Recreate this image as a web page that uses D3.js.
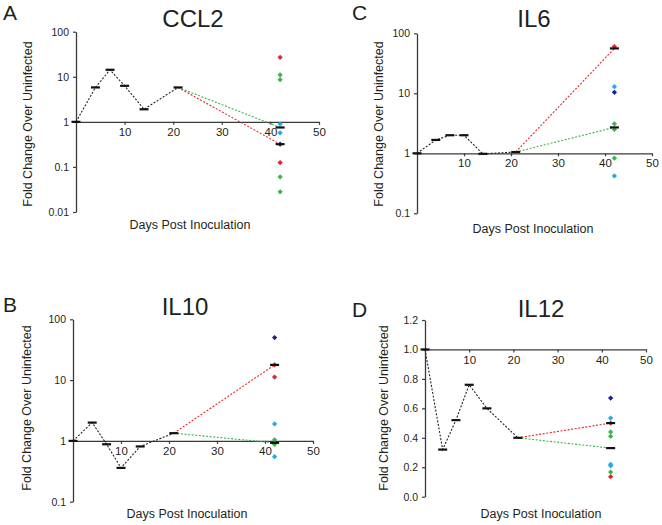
<!DOCTYPE html>
<html><head><meta charset="utf-8">
<script src="https://cdn.jsdelivr.net/npm/d3@7"></script>
<style>body{margin:0;background:#fff}svg{display:block}text{font-family:"Liberation Sans",Arial,sans-serif;fill:#231f20}</style>
</head><body>
<svg id="chart" width="662" height="525"></svg>
<script>
// ---- data ----
const days = [0, 4, 7, 10, 14, 21];
const endDay = 42;
const xTicks = [10, 20, 30, 40, 50];

const ccl2Means = [1, 5.8, 14.3, 6.3, 1.9, 5.8];
const ccl2RedMean = 0.32, ccl2GreenMean = 0.75;
const ccl2Red = [27, 0.125];
const ccl2Green = [11, 8.6, 0.06, 0.028];
const ccl2LightBlue = [0.9, 0.57];
const ccl2DarkBlue = [0.32];
const ccl2YTicks = [0.01, 0.1, 1, 10, 100];

const il6Means = [1, 1.67, 2.0, 2.0, 0.98, 1.05];
const il6RedMean = 56, il6GreenMean = 2.7;
const il6Red = [60];
const il6Green = [3.1, 2.5, 0.83];
const il6LightBlue = [12.9, 0.42];
const il6DarkBlue = [10.4];
const il6YTicks = [0.1, 1, 10, 100];

const il10Means = [1, 2.0, 0.88, 0.36, 0.81, 1.34];
const il10RedMean = 17.8, il10GreenMean = 0.93;
const il10Red = [17.8, 11.2];
const il10Green = [1.04, 0.88];
const il10LightBlue = [1.9, 0.55];
const il10DarkBlue = [50];
const il10YTicks = [0.1, 1, 10, 100];

const il12Means = [1.0, 0.32, 0.52, 0.76, 0.60, 0.40];
const il12RedMean = 0.50, il12GreenMean = 0.33;
const il12Red = [0.50, 0.136];
const il12Green = [0.44, 0.41, 0.167];
const il12LightBlue = [0.534, 0.22, 0.21];
const il12DarkBlue = [0.67];
const il12YTicks = [0.0, 0.2, 0.4, 0.6, 0.8, 1.0, 1.2];

const groupColors = {red: "#e3262b", green: "#3cb54a", lightBlue: "#27aae1", darkBlue: "#1b1f99"};

// ---- layout ----
const panels = [
  {letter: "A", title: "CCL2", log: true, means: ccl2Means, redMean: ccl2RedMean, greenMean: ccl2GreenMean,
   groups: {red: ccl2Red, green: ccl2Green, lightBlue: ccl2LightBlue, darkBlue: ccl2DarkBlue}, yTicks: ccl2YTicks,
   x0: 76, x1: 319, yTop: 31.7, yBot: 212, baseVal: 1,
   letterPos: [3, 20], titlePos: [193, 27], yLabPos: [28, 124], xLabPos: [190, 229]},
  {letter: "C", title: "IL6", log: true, means: il6Means, redMean: il6RedMean, greenMean: il6GreenMean,
   groups: {red: il6Red, green: il6Green, lightBlue: il6LightBlue, darkBlue: il6DarkBlue}, yTicks: il6YTicks,
   x0: 417, x1: 652, yTop: 33.3, yBot: 213.3, baseVal: 1,
   letterPos: [352, 20], titlePos: [534, 27], yLabPos: [379, 124], xLabPos: [533, 233]},
  {letter: "B", title: "IL10", log: true, means: il10Means, redMean: il10RedMean, greenMean: il10GreenMean,
   groups: {red: il10Red, green: il10Green, lightBlue: il10LightBlue, darkBlue: il10DarkBlue}, yTicks: il10YTicks,
   x0: 73, x1: 313, yTop: 319.3, yBot: 501.7, baseVal: 1,
   letterPos: [3, 312], titlePos: [185, 315], yLabPos: [27, 408], xLabPos: [187, 518]},
  {letter: "D", title: "IL12", log: false, means: il12Means, redMean: il12RedMean, greenMean: il12GreenMean,
   groups: {red: il12Red, green: il12Green, lightBlue: il12LightBlue, darkBlue: il12DarkBlue}, yTicks: il12YTicks,
   x0: 425, x1: 646, yTop: 320, yBot: 496.7, baseVal: 1.0,
   letterPos: [352, 317], titlePos: [541, 317], yLabPos: [384, 408], xLabPos: [541, 518]}
];

const svg = d3.select("#chart");
const axisColor = "#3a3a3a";

panels.forEach(p => {
  const g = svg.append("g");
  const x = d3.scaleLinear().domain([0, 50]).range([p.x0, p.x1]);
  const yDom = d3.extent(p.yTicks);
  const y = (p.log ? d3.scaleLog() : d3.scaleLinear()).domain(yDom).range([p.yBot, p.yTop]);

  // y axis
  const yAxis = d3.axisLeft(y).tickValues(p.yTicks).tickSize(3).tickPadding(4).tickSizeOuter(0)
    .tickFormat(p.log ? (d => String(d)) : d3.format(".1f"));
  const ya = g.append("g").attr("transform", `translate(${p.x0},0)`).call(yAxis);
  ya.select(".domain").attr("stroke", axisColor).attr("stroke-width", 1.3);
  ya.selectAll(".tick line").attr("stroke", axisColor).attr("stroke-width", 1.2);
  ya.selectAll(".tick text").attr("font-size", 10.5).attr("font-family", "Liberation Sans, Arial, sans-serif").attr("fill", "#2b2b2b");

  // x axis at baseline value
  const xAxis = d3.axisBottom(x).tickValues(xTicks).tickSize(3).tickPadding(3).tickSizeOuter(0);
  const xa = g.append("g").attr("transform", `translate(0,${y(p.baseVal)})`).call(xAxis);
  xa.select(".domain").attr("stroke", axisColor).attr("stroke-width", 1.3);
  xa.selectAll(".tick line").attr("stroke", axisColor).attr("stroke-width", 1.2);
  xa.selectAll(".tick text").attr("font-size", 11.5).attr("font-family", "Liberation Sans, Arial, sans-serif").attr("fill", "#231f20");

  // black dashed mean line
  const line = d3.line().x(d => x(d[0])).y(d => y(d[1]));
  const pts = days.map((d, i) => [d, p.means[i]]);
  g.append("path").attr("d", line(pts)).attr("fill", "none").attr("stroke", "#222")
    .attr("stroke-width", 1.1).attr("stroke-dasharray", "2,1.6");
  const last = pts[pts.length - 1];
  g.append("path").attr("d", line([last, [endDay, p.redMean]])).attr("fill", "none")
    .attr("stroke", "#e3262b").attr("stroke-width", 1.1).attr("stroke-dasharray", "2,1.6");
  g.append("path").attr("d", line([last, [endDay, p.greenMean]])).attr("fill", "none")
    .attr("stroke", "#3cb54a").attr("stroke-width", 1.1).attr("stroke-dasharray", "2,1.6");

  // individual points at day 42 (small square diamonds)
  const diamond = d3.symbol().type(d3.symbolSquare).size(14);
  Object.entries(p.groups).forEach(([grp, vals]) => {
    g.selectAll(null).data(vals).enter().append("path")
      .attr("d", diamond)
      .attr("transform", d => `translate(${x(endDay)},${y(d)}) rotate(45)`)
      .attr("fill", groupColors[grp]);
  });

  // mean bars
  const bars = pts.concat([[endDay, p.redMean], [endDay, p.greenMean]]);
  g.selectAll(null).data(bars).enter().append("line")
    .attr("x1", d => x(d[0]) - 4.5).attr("x2", d => x(d[0]) + 4.5)
    .attr("y1", d => y(d[1])).attr("y2", d => y(d[1]))
    .attr("stroke", "#111").attr("stroke-width", 2.2);

  // texts
  g.append("text").attr("x", p.letterPos[0]).attr("y", p.letterPos[1]).attr("font-size", 21).text(p.letter);
  g.append("text").attr("x", p.titlePos[0]).attr("y", p.titlePos[1]).attr("text-anchor", "middle")
    .attr("font-size", 24).text(p.title);
  g.append("text").attr("transform", `translate(${p.yLabPos[0]},${p.yLabPos[1]}) rotate(-90)`)
    .attr("text-anchor", "middle").attr("dy", "0.35em").attr("font-size", 12.5).text("Fold Change Over Uninfected");
  g.append("text").attr("x", p.xLabPos[0]).attr("y", p.xLabPos[1]).attr("text-anchor", "middle")
    .attr("font-size", 12.5).text("Days Post Inoculation");
});
</script>
</body></html>
